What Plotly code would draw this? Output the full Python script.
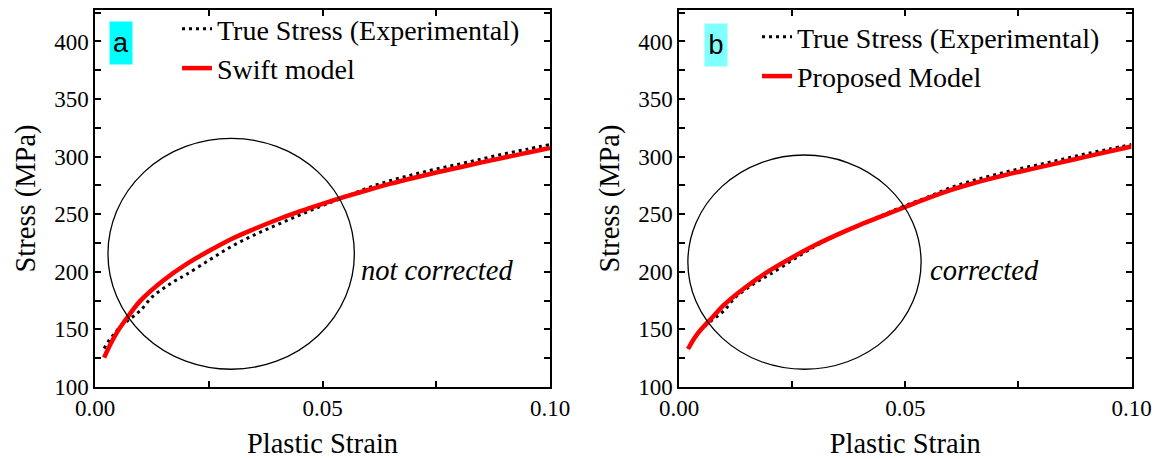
import plotly.graph_objects as go

# ---------------- data ----------------
strain_exp = [0.002, 0.003, 0.004, 0.005, 0.006, 0.008, 0.010, 0.0125, 0.015, 0.0175,
              0.020, 0.025, 0.030, 0.035, 0.040, 0.045, 0.050, 0.055, 0.060, 0.065,
              0.070, 0.075, 0.080, 0.085, 0.090, 0.095, 0.100]
stress_exp = [133.5, 140.0, 145.0, 150.0, 154.0, 160.0, 166.5, 178.0, 185.5, 192.0,
              197.5, 210.0, 222.0, 232.0, 240.8, 249.3, 257.5, 265.0, 273.0, 279.3,
              284.5, 289.3, 293.5, 298.0, 302.5, 306.5, 310.5]

strain_model = [0.002, 0.0035, 0.005, 0.0075, 0.010, 0.015, 0.020, 0.025, 0.030, 0.035,
                0.040, 0.045, 0.050, 0.055, 0.060, 0.065, 0.070, 0.075, 0.080, 0.085,
                0.090, 0.095, 0.100]
stress_swift = [125.5, 138.0, 148.5, 162.5, 175.0, 192.5, 206.5, 218.0, 228.5, 237.2,
                245.2, 252.4, 259.0, 265.2, 271.0, 276.5, 281.5, 286.2, 290.6, 295.0,
                299.2, 303.4, 307.5]
stress_proposed = [133.0, 143.0, 150.5, 161.0, 171.5, 187.5, 201.0, 212.5, 223.0, 232.3,
                   240.8, 248.5, 256.3, 264.0, 271.0, 276.8, 282.0, 286.7, 291.1, 295.5,
                   300.0, 304.4, 308.8]

x_ticks = [0.0, 0.05, 0.10]
x_ticklabels = ["0.00", "0.05", "0.10"]
y_ticks = [100, 150, 200, 250, 300, 350, 400]

# circle annotations (data coords): x0, x1, y0, y1
circle_a = [0.00285, 0.0570, 115.4, 315.9]
circle_b = [0.00196, 0.0535, 115.4, 301.4]

# ---------------- figure ----------------
W, H = 1156, 459
SERIF = "Liberation Serif"
SANS = "Liberation Sans"

fig = go.Figure()

exp_line = dict(color="black", width=3, dash="3px,4px")

fig.add_trace(go.Scatter(x=strain_exp, y=stress_exp, mode="lines", line=exp_line,
                         line_shape="spline", name="True Stress (Experimental)",
                         xaxis="x", yaxis="y", legend="legend"))
fig.add_trace(go.Scatter(x=strain_model, y=stress_swift, mode="lines",
                         line=dict(color="#FF0000", width=4.5), line_shape="spline",
                         name="Swift model", xaxis="x", yaxis="y", legend="legend"))
fig.add_trace(go.Scatter(x=strain_exp, y=stress_exp, mode="lines", line=exp_line,
                         line_shape="spline", name="True Stress (Experimental)",
                         xaxis="x2", yaxis="y2", legend="legend2"))
fig.add_trace(go.Scatter(x=strain_model, y=stress_proposed, mode="lines",
                         line=dict(color="#FF0000", width=4.5), line_shape="spline",
                         name="Proposed Model", xaxis="x2", yaxis="y2", legend="legend2"))

def px_x(p):
    return p / W

def px_y(p):
    return (H - p) / H

ydom = [px_y(387), px_y(10)]

axis_common = dict(
    showline=True, linecolor="black", linewidth=1.5, mirror="ticks",
    ticks="inside", ticklen=6, tickwidth=1.5, tickcolor="black",
    showgrid=False, zeroline=False, automargin=False,
    tickfont=dict(family=SERIF, size=23, color="black"),
    title_font=dict(family=SERIF, size=28.5, color="black"),
)

xaxis_common = dict(axis_common, range=[0, 0.1], tickvals=x_ticks, ticktext=x_ticklabels,
                    minor=dict(dtick=0.025, ticks="inside", ticklen=6, tickwidth=1.5,
                               tickcolor="black", showgrid=False),
                    title_text="Plastic Strain", title_standoff=14)
yaxis_common = dict(axis_common, range=[100, 427.3], tickvals=y_ticks,
                    minor=dict(dtick=25, ticks="inside", ticklen=6, tickwidth=1.5,
                               tickcolor="black", showgrid=False),
                    title_text="Stress (MPa)", title_standoff=10, domain=ydom)

fig.update_layout(
    width=W, height=H,
    margin=dict(l=0, r=0, t=0, b=0, autoexpand=False),
    paper_bgcolor="white", plot_bgcolor="white",
    xaxis=dict(xaxis_common, domain=[px_x(95), px_x(550)], anchor="y"),
    yaxis=dict(yaxis_common, anchor="x"),
    xaxis2=dict(xaxis_common, domain=[px_x(679), px_x(1131.5)], anchor="y2"),
    yaxis2=dict(yaxis_common, anchor="x2"),
    legend=dict(x=px_x(177), y=px_y(4), xanchor="left", yanchor="top",
                bgcolor="rgba(0,0,0,0)", borderwidth=0,
                font=dict(family=SERIF, size=28, color="black")),
    legend2=dict(x=px_x(757), y=px_y(12), xanchor="left", yanchor="top",
                 bgcolor="rgba(0,0,0,0)", borderwidth=0,
                 font=dict(family=SERIF, size=28, color="black")),
    showlegend=True,
)

for xr, yr, c in [("x", "y", circle_a), ("x2", "y2", circle_b)]:
    fig.add_shape(type="circle", xref=xr, yref=yr, x0=c[0], x1=c[1], y0=c[2], y1=c[3],
                  line=dict(color="black", width=1.3), layer="above")

fig.add_annotation(x=0.0752, y=201, xref="x", yref="y", text="<i>not corrected</i>",
                   showarrow=False, font=dict(family=SERIF, size=28.5, color="black"))
fig.add_annotation(x=0.0675, y=201, xref="x2", yref="y2", text="<i>corrected</i>",
                   showarrow=False, font=dict(family=SERIF, size=28.5, color="black"))

fig.add_annotation(x=px_x(121), y=px_y(43), xref="paper", yref="paper", text="a",
                   xanchor="center", yanchor="middle", width=16, height=36,
                   showarrow=False, bgcolor="#00FFFF", borderpad=3,
                   font=dict(family=SANS, size=27, color="black"))
fig.add_annotation(x=px_x(715.5), y=px_y(45), xref="paper", yref="paper", text="b",
                   xanchor="center", yanchor="middle", width=16, height=36,
                   showarrow=False, bgcolor="#80FFFF", borderpad=3,
                   font=dict(family=SANS, size=27, color="black"))

fig.write_html("out.html", config={"displayModeBar": False},
               post_script="document.body.style.margin='0';")
